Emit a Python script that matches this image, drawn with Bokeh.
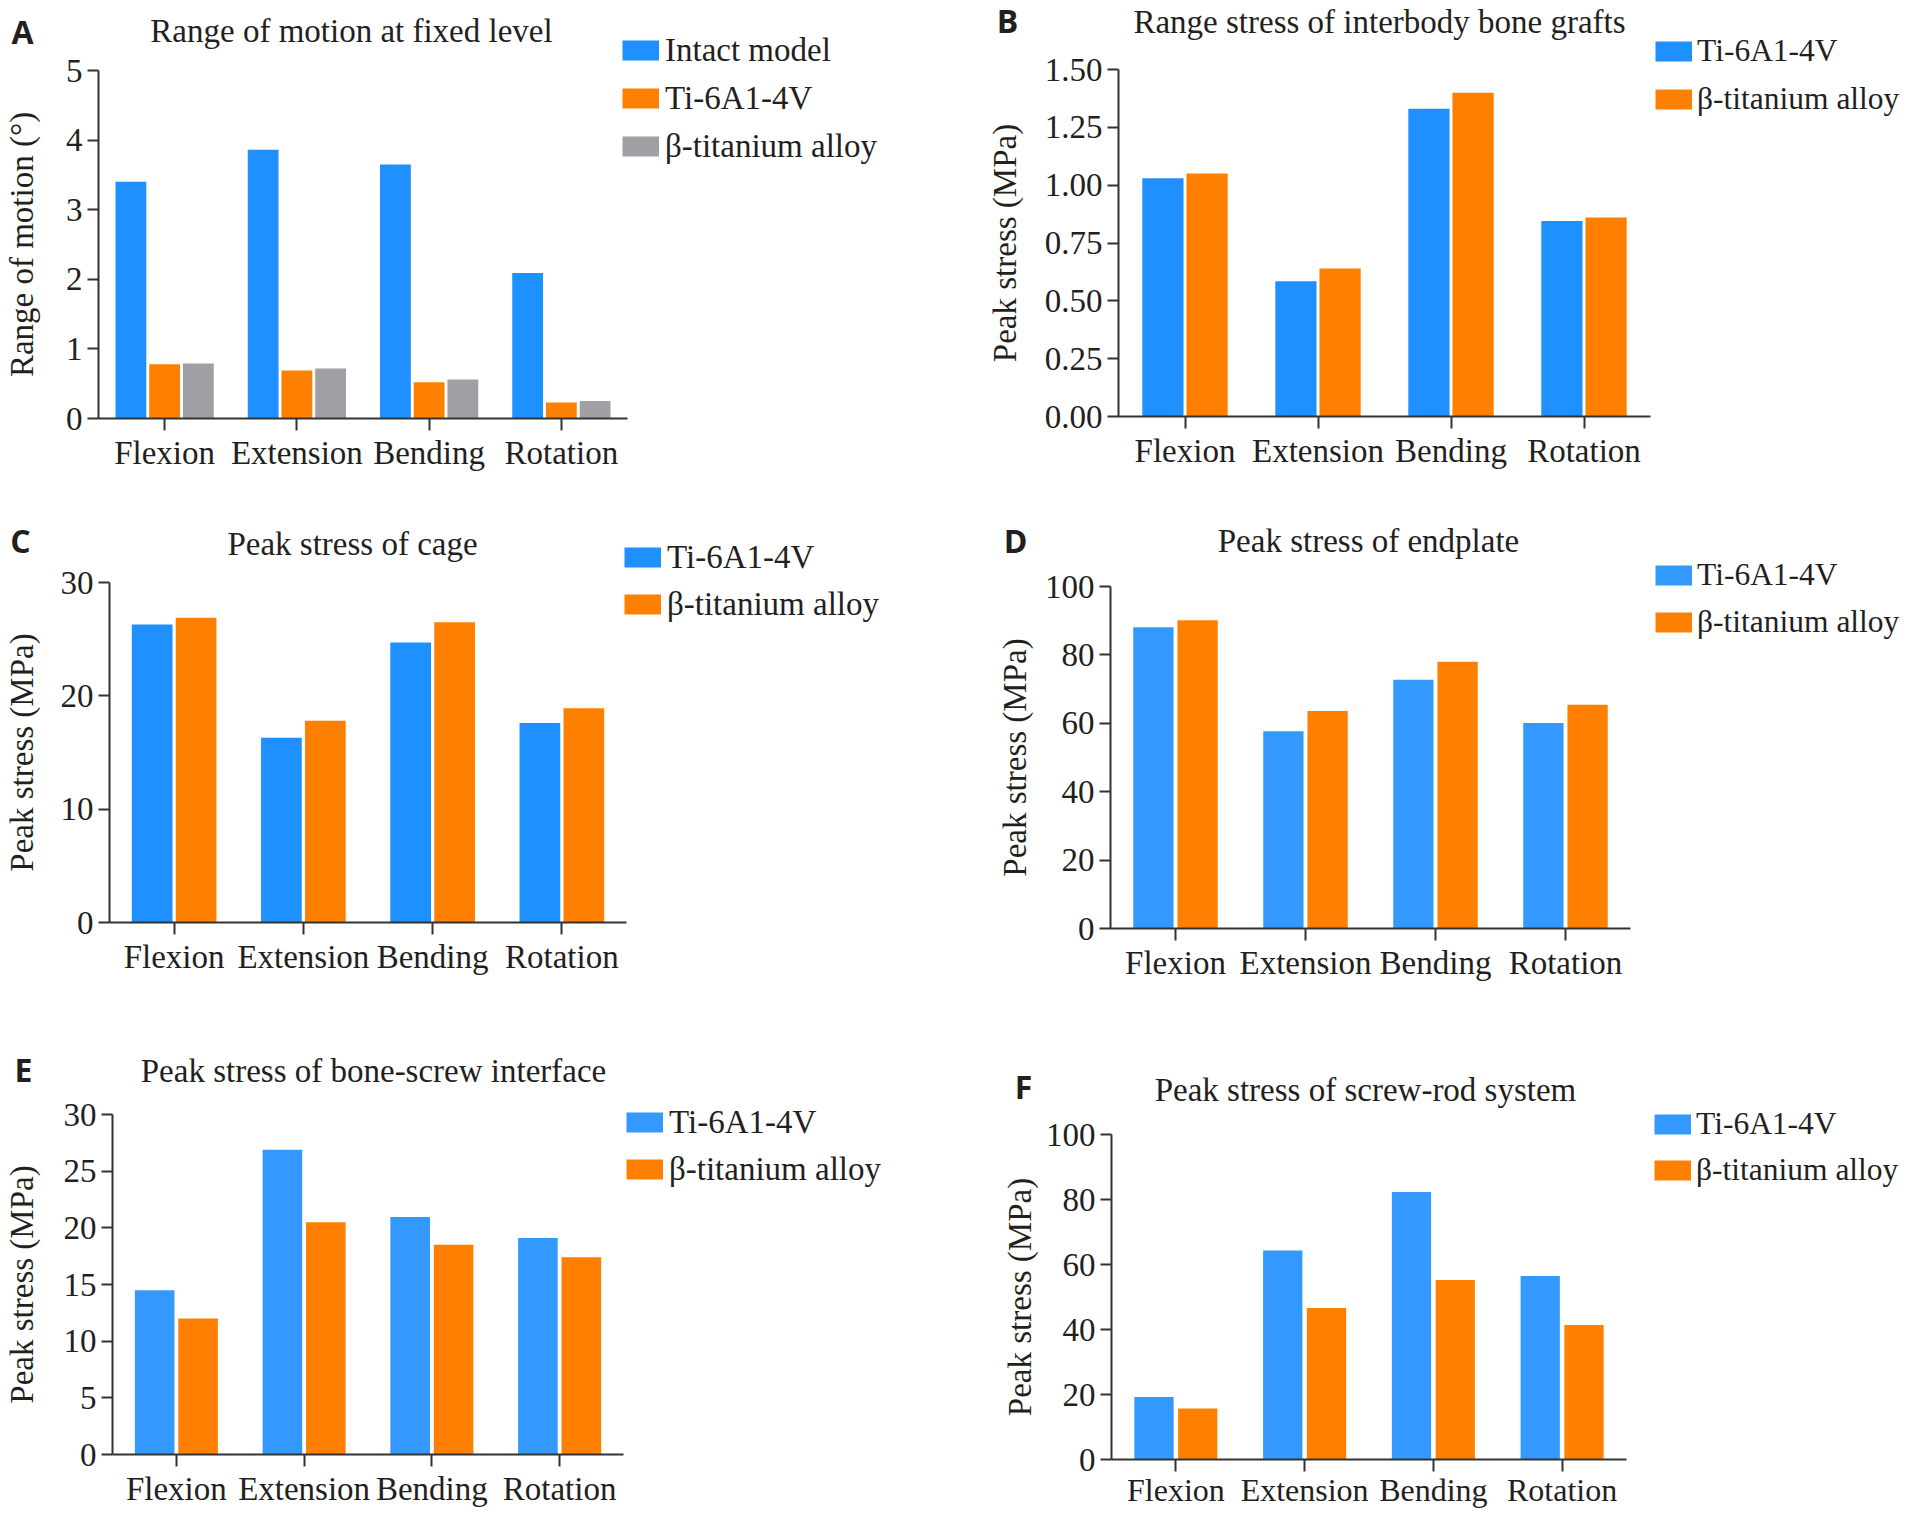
from bokeh.plotting import figure
from bokeh.models import (Range1d, FactorRange, Legend, LegendItem, Label, GridBox,
                          FixedTicker, NumeralTickFormatter, ColumnDataSource)
from bokeh.transform import dodge
from bokeh.embed import file_html
from bokeh.resources import INLINE

# ---------------- data ----------------
categories = ["Flexion", "Extension", "Bending", "Rotation"]

rom_intact = [3.40, 3.86, 3.65, 2.09]
rom_ti = [0.78, 0.69, 0.52, 0.23]
rom_beta = [0.79, 0.72, 0.56, 0.25]

graft_ti = [1.03, 0.585, 1.33, 0.845]
graft_beta = [1.05, 0.64, 1.40, 0.86]

cage_ti = [26.3, 16.3, 24.7, 17.6]
cage_beta = [26.9, 17.8, 26.5, 18.9]

endplate_ti = [88.1, 57.7, 72.7, 60.1]
endplate_beta = [90.1, 63.6, 78.0, 65.4]

bsi_ti = [14.5, 26.9, 20.95, 19.1]
bsi_beta = [12.0, 20.5, 18.5, 17.4]

srs_ti = [19.2, 64.3, 82.3, 56.5]
srs_beta = [15.7, 46.6, 55.2, 41.4]

ticks_rom = [0, 1, 2, 3, 4, 5]
ticks_graft = [0, 0.25, 0.5, 0.75, 1.0, 1.25, 1.5]
ticks_30 = [0, 10, 20, 30]
ticks_30b = [0, 5, 10, 15, 20, 25, 30]
ticks_100 = [0, 20, 40, 60, 80, 100]

names3 = ["Intact model", "Ti-6A1-4V", "β-titanium alloy"]
names2 = ["Ti-6A1-4V", "β-titanium alloy"]

# ---------------- style ----------------
BLUE1 = "#1E90FF"
BLUE2 = "#3399FF"
ORANGE = "#FF8000"
GRAY = "#A0A0A4"
TXT = "#231f20"
AX = "#333333"
SERIF = "Liberation Serif"
SANS = "Open Sans"
PAGE_W, PAGE_H = 1902, 1510
M = 8  # page margin


def panel(origin, size, frame, values, colors, y_end, ticks, fmt, ylabel,
          ylabel_standoff, bar_w, offsets, xlabel_standoff=4, xlabel_size="33px"):
    fx, fy = origin
    fw, fh = size
    L, R, T, B = frame[0] - fx, frame[1] - fx, frame[2] - fy, frame[3] - fy
    p = figure(width=fw, height=fh, x_range=FactorRange(*categories),
               y_range=Range1d(0, y_end), output_backend="svg",
               toolbar_location=None,
               min_border_left=L, min_border_right=fw - R,
               min_border_top=T, min_border_bottom=fh - B)
    try:
        p.frame_align = False
    except Exception:
        pass
    p.outline_line_color = None
    p.grid.visible = False
    p.background_fill_color = "white"
    p.border_fill_color = "white"

    data = {"cat": categories}
    for i, v in enumerate(values):
        data[f"s{i}"] = v
    src = ColumnDataSource(data)
    for i, (c, off) in enumerate(zip(colors, offsets)):
        p.vbar(x=dodge("cat", off, range=p.x_range), top=f"s{i}", width=bar_w,
               source=src, fill_color=c, line_color=None)

    for ax in (p.xaxis[0], p.yaxis[0]):
        ax.axis_line_color = AX
        ax.axis_line_width = 2
        ax.major_tick_line_color = AX
        ax.major_tick_line_width = 2
        ax.major_tick_in = 0
        ax.minor_tick_line_color = None
        ax.major_label_text_font = SERIF
        ax.major_label_text_color = TXT
    p.xaxis.major_tick_out = 12
    p.xaxis.major_label_standoff = xlabel_standoff
    p.xaxis.major_label_text_font_size = xlabel_size
    p.yaxis.major_tick_out = 11
    p.yaxis.major_label_standoff = 5
    p.yaxis.major_label_text_font_size = "33px"
    p.yaxis.ticker = FixedTicker(ticks=ticks)
    p.yaxis.formatter = NumeralTickFormatter(format=fmt)
    p.yaxis.axis_label = ylabel
    p.yaxis.axis_label_text_font = SERIF
    p.yaxis.axis_label_text_font_size = "33px"
    p.yaxis.axis_label_text_font_style = "normal"
    p.yaxis.axis_label_text_color = TXT
    p.yaxis.axis_label_standoff = ylabel_standoff
    return p


pA = panel((8, 8), (951, 487), (102, 635, 78, 426),
           [rom_intact, rom_ti, rom_beta], [BLUE1, ORANGE, GRAY], 5, ticks_rom, "0",
           "Range of motion (°)", 23, 0.233, [-0.255, 0, 0.255])
pB = panel((959, 8), (951, 487), (1126, 1658, 77, 424),
           [graft_ti, graft_beta], [BLUE1, ORANGE], 1.5, ticks_graft, "0.00",
           "Peak stress (MPa)", 19, 0.31, [-0.166, 0.166])
pC = panel((8, 495), (951, 515), (112, 634, 590, 930),
           [cage_ti, cage_beta], [BLUE1, ORANGE], 30, ticks_30, "0",
           "Peak stress (MPa)", 18, 0.315, [-0.17, 0.17])
pD = panel((959, 495), (951, 515), (1118, 1638, 594, 936),
           [endplate_ti, endplate_beta], [BLUE2, ORANGE], 100, ticks_100, "0",
           "Peak stress (MPa)", 9, 0.31, [-0.17, 0.17])
pE = panel((8, 1010), (951, 508), (105, 631, 1122, 1462),
           [bsi_ti, bsi_beta], [BLUE2, ORANGE], 30, ticks_30b, "0",
           "Peak stress (MPa)", 21, 0.31, [-0.17, 0.17])
pF = panel((959, 1010), (951, 508), (1119, 1634, 1142, 1471),
           [srs_ti, srs_beta], [BLUE2, ORANGE], 100, ticks_100, "0",
           "Peak stress (MPa)", 5, 0.305, [-0.17, 0.17], xlabel_standoff=0,
           xlabel_size="32px")

# ---------------- overlay for titles, panel letters and legends ----------------
ov = figure(width=PAGE_W, height=PAGE_H, x_range=Range1d(0, PAGE_W),
            y_range=Range1d(PAGE_H, 0), output_backend="svg", toolbar_location=None,
            min_border=0, x_axis_location=None, y_axis_location=None)
try:
    ov.frame_align = False
except Exception:
    pass
ov.grid.visible = False
ov.outline_line_color = None
ov.background_fill_alpha = 0
ov.border_fill_alpha = 0

key = {}
for c in (BLUE1, BLUE2, ORANGE, GRAY):
    key[c] = ov.line(x=[-300, -200], y=[-300, -300], line_color=c, line_width=20,
                     line_cap="butt")

panels_meta = [
    # letter, letter xy, title, title xy, legend names, colors, patch left, rows, font
    ("A", (30, 39), "Range of motion at fixed level", (359, 38), names3,
     [BLUE1, ORANGE, GRAY], 630, [57, 107, 154], "33px", 6),
    ("B", (1015, 28), "Range stress of interbody bone grafts", (1387, 29), names2,
     [BLUE1, ORANGE], 1663, [59, 107], "31.5px", 5),
    ("C", (28, 548), "Peak stress of cage", (360, 551), names2,
     [BLUE1, ORANGE], 632, [565, 612], "33px", 6),
    ("D", (1023, 548), "Peak stress of endplate", (1376, 548), names2,
     [BLUE2, ORANGE], 1663, [583, 630], "31.5px", 5),
    ("E", (31, 1077), "Peak stress of bone-screw interface", (381, 1078), names2,
     [BLUE2, ORANGE], 634, [1130, 1177], "33px", 6),
    ("F", (1031, 1094), "Peak stress of screw-rod system", (1373, 1097), names2,
     [BLUE2, ORANGE], 1662, [1132, 1178], "31.5px", 5),
]

H = 40
for letter, (lx, ly), title, (tx, ty), names, cols, leg_x, rows, fsize, stand in panels_meta:
    ov.add_layout(Label(x=lx - M, y=ly - M, text=letter, text_align="center",
                        text_baseline="middle", text_font=SANS,
                        text_font_style="bold", text_font_size="32px",
                        text_color=TXT))
    ov.add_layout(Label(x=tx - M, y=ty - M, text=title, text_align="center",
                        text_baseline="middle", text_font=SERIF,
                        text_font_size="33px", text_color=TXT))
    n = len(rows)
    spacing = int(round((rows[-1] - rows[0]) / max(1, n - 1))) - H
    vx = leg_x - M
    vy = (PAGE_H + M) - (rows[-1] + H / 2)
    leg = Legend(items=[LegendItem(label=nm, renderers=[key[c]]) for nm, c in zip(names, cols)],
                 location=(vx, vy), orientation="vertical",
                 glyph_width=37, glyph_height=H, label_height=H,
                 label_standoff=stand, spacing=spacing, padding=0, margin=0,
                 border_line_alpha=0, background_fill_alpha=0,
                 label_text_font=SERIF, label_text_font_size=fsize,
                 label_text_color=TXT)
    ov.add_layout(leg)

grid = GridBox(children=[(pA, 0, 0), (pB, 0, 1), (pC, 1, 0), (pD, 1, 1),
                         (pE, 2, 0), (pF, 2, 1), (ov, 0, 0, 3, 2)], spacing=0)

open("out.html", "w").write(file_html(grid, INLINE))
